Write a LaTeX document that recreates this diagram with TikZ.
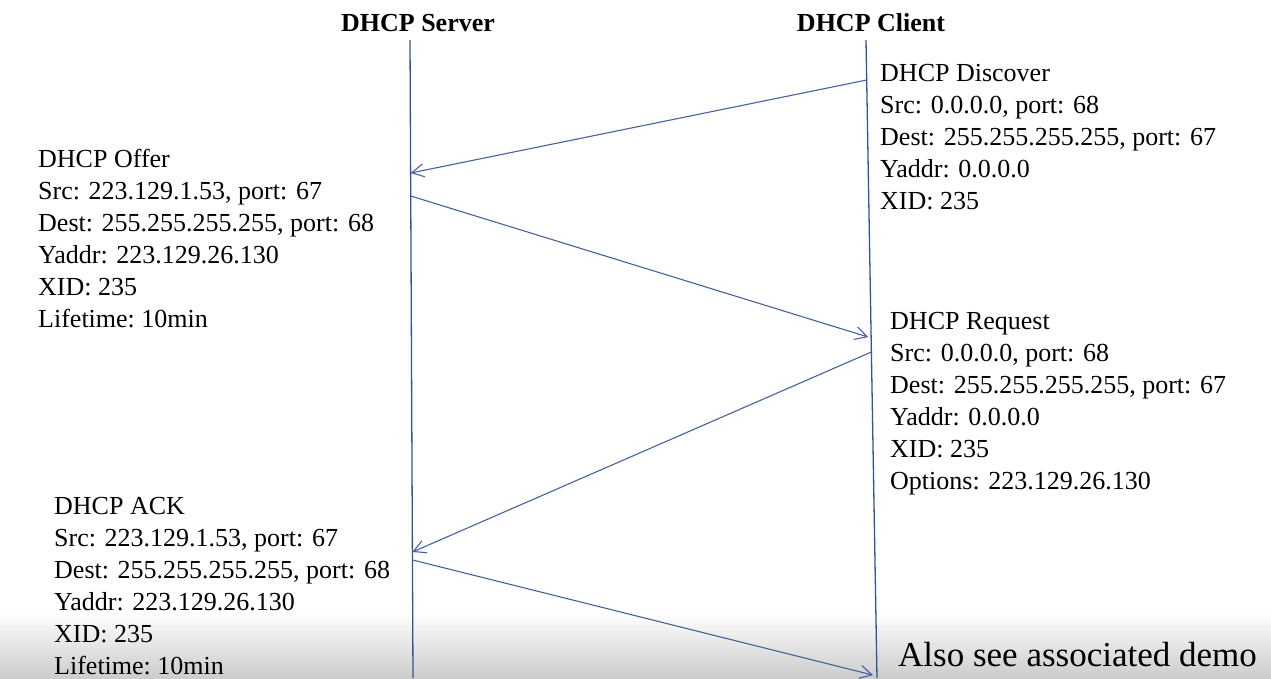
\documentclass[tikz,border=0pt]{standalone}
\usepackage{fontspec}
\setmainfont{Liberation Serif}
\usetikzlibrary{arrows.meta,calc}
\definecolor{lifeblue}{RGB}{47,85,151}
\definecolor{msgblue}{RGB}{68,97,160}
\begin{document}
\begin{tikzpicture}[x=1pt,y=-1pt,
  lifeline/.style={draw=lifeblue, line width=1.3pt},
  msg/.style={draw=msgblue, line width=1.1pt, -{Straight Barb[length=12pt,width=13pt,line width=1.1pt]}},
  txt/.style={anchor=base west, inner sep=0pt, font=\fontsize{26}{32}\selectfont},
  ttl/.style={anchor=base, inner sep=0pt, font=\fontsize{26}{32}\selectfont\bfseries},
  note/.style={anchor=base west, inner sep=0pt, font=\fontsize{35}{40}\selectfont}]
\useasboundingbox (0,0) rectangle (1271,678);
\shade[top color=white, bottom color=black!20] (0,612) rectangle (1271,678);
% titles
\node[ttl] (srvT) at (418,31) {DHCP Server};
\node[ttl] (cliT) at (871,31) {DHCP Client};
% lifelines
\coordinate (s0) at (410,40); \coordinate (s1) at (413,678);
\coordinate (c0) at (866,40); \coordinate (c1) at (877,678);
\draw[lifeline] (s0) -- (s1);
\draw[lifeline] (c0) -- (c1);
% message end points
\coordinate (discA) at ($(c0)!0.0627!(c1)$);
\coordinate (discB) at ($(s0)!0.2085!(s1)$);
\coordinate (offA) at ($(s0)!0.2445!(s1)$);
\coordinate (offB) at ($(c0)!0.467!(c1)$);
\coordinate (reqA) at ($(c0)!0.489!(c1)$);
\coordinate (reqB) at ($(s0)!0.8025!(s1)$);
\coordinate (ackA) at ($(s0)!0.815!(s1)$);
\coordinate (ackB) at ($(c0)!0.997!(c1)$);
\draw[msg] (discA) -- (discB);
\draw[msg, shorten >=3pt] (offA) -- (offB);
\draw[msg] (reqA) -- (reqB);
\draw[msg, shorten >=4pt] (ackA) -- (ackB);
% text blocks
\foreach \t [count=\i] in {DHCP Discover, {Src: 0.0.0.0, port: 68}, {Dest: 255.255.255.255, port: 67}, Yaddr: 0.0.0.0, XID: 235}
  \node[txt] (disc\i) at (880,{81+32*(\i-1)}) {\t};
\foreach \t [count=\i] in {DHCP Offer, {Src: 223.129.1.53, port: 67}, {Dest: 255.255.255.255, port: 68}, Yaddr: 223.129.26.130, XID: 235, Lifetime:~10min}
  \node[txt] (off\i) at (38,{167+32*(\i-1)}) {\t};
\foreach \t [count=\i] in {DHCP Request, {Src: 0.0.0.0, port: 68}, {Dest: 255.255.255.255, port: 67}, Yaddr: 0.0.0.0, XID: 235, Options: 223.129.26.130}
  \node[txt] (req\i) at (890,{329+32*(\i-1)}) {\t};
\foreach \t [count=\i] in {DHCP ACK, {Src: 223.129.1.53, port: 67}, {Dest: 255.255.255.255, port: 68}, Yaddr: 223.129.26.130, XID: 235, Lifetime:~10min}
  \node[txt] (ack\i) at (54,{514+32*(\i-1)}) {\t};
\node[note] (demo) at (898,666) {Also see associated demo};
\end{tikzpicture}
\end{document}
